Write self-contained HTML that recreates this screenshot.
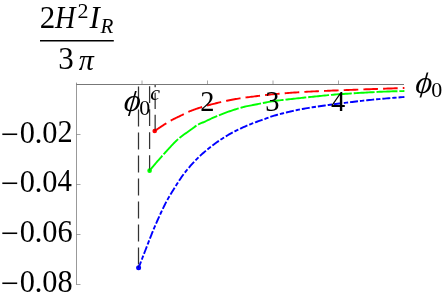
<!DOCTYPE html>
<html><head><meta charset="utf-8"><title>plot</title>
<style>html,body{margin:0;padding:0;background:#fff;width:443px;height:299px;overflow:hidden;font-family:"Liberation Serif",serif}</style>
</head><body>
<svg width="443" height="299" viewBox="0 0 443 299" style="position:absolute;left:0;top:0;transform:translateZ(0)">
<g fill="none" stroke-width="1.9" transform="translate(0 0.45)">
<path d="M154.70 130.60 L154.79 130.54 L154.95 130.42 L155.16 130.27 L155.41 130.09 L155.69 129.89 L156.01 129.67 L156.35 129.43 L156.71 129.17 L157.10 128.90 L157.51 128.61 L157.95 128.32 L158.40 128.01 L158.87 127.68 L159.36 127.35 L159.87 127.01 L160.39 126.66 L160.93 126.30 L161.49 125.93 L162.07 125.55 L162.66 125.16 L163.26 124.77 L163.88 124.37 L164.51 123.97 L165.16 123.56 L165.82 123.14 L166.49 122.72 L167.18 122.29 L167.88 121.86 L168.59 121.42 L169.32 120.99 L170.05 120.56 L170.80 120.14 L171.56 119.73 L172.33 119.32 L173.12 118.91 L173.91 118.51 L174.72 118.10 L175.54 117.70 L176.36 117.29 L177.20 116.89 L178.05 116.48 L178.91 116.07 L179.78 115.65 L180.66 115.23 L181.55 114.80 L182.45 114.37 L183.36 113.92 L184.28 113.45 L185.21 112.97 L186.15 112.47 L187.10 112.00 L188.05 111.55 L189.02 111.14 L190.00 110.75 L190.98 110.36 L191.98 109.97 L192.98 109.59 L193.99 109.22 L195.01 108.85 L196.04 108.49 L197.08 108.14 L198.12 107.79 L199.18 107.45 L200.24 107.11 L201.31 106.78 L202.39 106.45 L203.48 106.13 L204.58 105.81 L205.68 105.50 L206.79 105.19 L207.91 104.89 L209.04 104.59 L210.18 104.29 L211.32 103.99 L212.47 103.69 L213.63 103.40 L214.80 103.11 L215.97 102.82 L217.16 102.53 L218.35 102.24 L219.54 101.96 L220.75 101.68 L221.96 101.40 L223.18 101.13 L224.41 100.85 L225.64 100.59 L226.88 100.32 L228.13 100.06 L229.38 99.81 L230.65 99.56 L231.91 99.31 L233.19 99.07 L234.47 98.83 L235.76 98.60 L237.06 98.37 L238.37 98.15 L239.68 97.93 L240.99 97.72 L242.32 97.52 L243.65 97.33 L244.99 97.15 L246.33 96.97 L247.68 96.80 L249.04 96.63 L250.40 96.46 L251.77 96.29 L253.15 96.13 L254.53 95.96 L255.92 95.79 L257.32 95.61 L258.72 95.44 L260.13 95.26 L261.55 95.09 L262.97 94.91 L264.39 94.74 L265.83 94.57 L267.27 94.40 L268.71 94.24 L270.17 94.08 L271.63 93.93 L273.09 93.79 L274.56 93.65 L276.04 93.52 L277.52 93.39 L279.01 93.26 L280.50 93.13 L282.00 93.00 L283.51 92.88 L285.02 92.76 L286.54 92.65 L288.07 92.53 L289.60 92.42 L291.13 92.31 L292.67 92.20 L294.22 92.09 L295.77 91.99 L297.33 91.89 L298.90 91.78 L300.47 91.69 L302.04 91.59 L303.62 91.49 L305.21 91.40 L306.80 91.31 L308.40 91.22 L310.01 91.13 L311.62 91.05 L313.23 90.97 L314.85 90.89 L316.48 90.81 L318.11 90.73 L319.75 90.66 L321.39 90.59 L323.04 90.52 L324.69 90.45 L326.35 90.38 L328.01 90.31 L329.68 90.24 L331.35 90.18 L333.03 90.11 L334.72 90.05 L336.41 89.98 L338.11 89.92 L339.81 89.85 L341.51 89.78 L343.22 89.72 L344.94 89.65 L346.66 89.58 L348.39 89.52 L350.12 89.45 L351.86 89.39 L353.60 89.32 L355.35 89.26 L357.10 89.19 L358.86 89.12 L360.62 89.06 L362.39 88.99 L364.16 88.93 L365.94 88.86 L367.72 88.80 L369.51 88.73 L371.30 88.67 L373.10 88.61 L374.90 88.54 L376.71 88.48 L378.52 88.41 L380.34 88.35 L382.16 88.29 L383.99 88.23 L385.82 88.16 L387.65 88.10 L389.50 88.04 L391.34 87.98 L393.19 87.92 L395.05 87.86 L396.91 87.80 L398.77 87.74 L400.65 87.68 L402.52 87.62 L404.40 87.56" stroke="#ff0000" stroke-dasharray="14.6 5.1" stroke-dashoffset="0.6"/>
<path d="M149.60 170.20 L149.69 170.09 L149.86 169.89 L150.07 169.62 L150.33 169.31 L150.61 168.96 L150.93 168.57 L151.28 168.15 L151.65 167.70 L152.05 167.22 L152.47 166.71 L152.91 166.18 L153.37 165.63 L153.85 165.05 L154.35 164.46 L154.87 163.84 L155.41 163.21 L155.96 162.56 L156.53 161.90 L157.12 161.21 L157.72 160.52 L158.33 159.81 L158.97 159.08 L159.61 158.35 L160.27 157.60 L160.95 156.84 L161.63 156.07 L162.33 155.29 L163.05 154.50 L163.77 153.70 L164.51 152.89 L165.27 152.06 L166.03 151.22 L166.81 150.36 L167.59 149.49 L168.39 148.61 L169.21 147.72 L170.03 146.82 L170.86 145.92 L171.71 145.02 L172.56 144.11 L173.43 143.21 L174.31 142.31 L175.19 141.42 L176.09 140.55 L177.00 139.68 L177.92 138.84 L178.85 138.01 L179.78 137.21 L180.73 136.44 L181.69 135.70 L182.66 134.98 L183.63 134.28 L184.62 133.59 L185.62 132.91 L186.62 132.23 L187.64 131.54 L188.66 130.85 L189.69 130.14 L190.73 129.40 L191.78 128.63 L192.84 127.81 L193.91 126.99 L194.99 126.18 L196.07 125.40 L197.17 124.69 L198.27 124.06 L199.38 123.50 L200.50 122.99 L201.62 122.51 L202.76 122.05 L203.90 121.58 L205.05 121.08 L206.21 120.55 L207.38 120.00 L208.55 119.44 L209.74 118.87 L210.93 118.30 L212.13 117.74 L213.33 117.18 L214.55 116.63 L215.77 116.10 L217.00 115.60 L218.23 115.11 L219.48 114.62 L220.73 114.14 L221.99 113.65 L223.25 113.17 L224.53 112.69 L225.81 112.21 L227.10 111.74 L228.39 111.27 L229.69 110.81 L231.00 110.35 L232.32 109.90 L233.64 109.46 L234.97 109.03 L236.31 108.61 L237.66 108.20 L239.01 107.80 L240.37 107.41 L241.73 107.04 L243.10 106.67 L244.48 106.33 L245.87 106.00 L247.26 105.70 L248.66 105.41 L250.06 105.14 L251.47 104.87 L252.89 104.60 L254.31 104.33 L255.75 104.05 L257.18 103.77 L258.63 103.47 L260.08 103.18 L261.54 102.88 L263.00 102.59 L264.47 102.30 L265.94 102.01 L267.43 101.74 L268.91 101.47 L270.41 101.21 L271.91 100.97 L273.42 100.74 L274.93 100.52 L276.45 100.31 L277.97 100.11 L279.50 99.92 L281.04 99.73 L282.59 99.55 L284.13 99.37 L285.69 99.19 L287.25 99.02 L288.82 98.84 L290.39 98.67 L291.97 98.50 L293.56 98.33 L295.15 98.15 L296.74 97.97 L298.34 97.80 L299.95 97.62 L301.57 97.45 L303.19 97.27 L304.81 97.10 L306.44 96.93 L308.08 96.76 L309.72 96.59 L311.37 96.42 L313.02 96.26 L314.68 96.09 L316.35 95.92 L318.02 95.75 L319.69 95.58 L321.37 95.41 L323.06 95.23 L324.75 95.06 L326.45 94.89 L328.15 94.72 L329.86 94.56 L331.58 94.40 L333.30 94.24 L335.02 94.10 L336.75 93.96 L338.49 93.84 L340.23 93.72 L341.97 93.60 L343.73 93.48 L345.48 93.36 L347.24 93.25 L349.01 93.13 L350.78 93.02 L352.56 92.90 L354.34 92.79 L356.13 92.67 L357.93 92.56 L359.72 92.45 L361.53 92.34 L363.34 92.24 L365.15 92.13 L366.97 92.03 L368.79 91.93 L370.62 91.83 L372.46 91.73 L374.30 91.64 L376.14 91.55 L377.99 91.46 L379.84 91.37 L381.70 91.29 L383.57 91.21 L385.44 91.13 L387.31 91.06 L389.19 90.99 L391.07 90.93 L392.96 90.87 L394.86 90.81 L396.76 90.76 L398.66 90.71 L400.57 90.66 L402.48 90.63 L404.40 90.59" stroke="#00ff00" stroke-dasharray="20.95 1.9" stroke-dashoffset="1.29"/>
<path d="M138.66 267.25 L138.75 267.00 L138.93 266.55 L139.15 265.97 L139.42 265.28 L139.72 264.49 L140.05 263.62 L140.41 262.68 L140.80 261.67 L141.22 260.60 L141.65 259.46 L142.11 258.27 L142.60 257.02 L143.10 255.72 L143.62 254.38 L144.16 252.98 L144.72 251.54 L145.30 250.06 L145.89 248.52 L146.50 246.94 L147.13 245.32 L147.77 243.65 L148.43 241.95 L149.10 240.21 L149.79 238.44 L150.49 236.65 L151.21 234.84 L151.94 233.02 L152.69 231.19 L153.44 229.35 L154.21 227.49 L155.00 225.63 L155.80 223.76 L156.61 221.90 L157.43 220.05 L158.26 218.20 L159.11 216.33 L159.96 214.45 L160.83 212.57 L161.72 210.68 L162.61 208.80 L163.51 206.93 L164.43 205.07 L165.35 203.24 L166.29 201.44 L167.24 199.68 L168.19 197.96 L169.16 196.26 L170.14 194.59 L171.13 192.94 L172.13 191.31 L173.14 189.69 L174.16 188.07 L175.19 186.44 L176.22 184.81 L177.27 183.15 L178.33 181.50 L179.40 179.85 L180.47 178.21 L181.56 176.61 L182.66 175.05 L183.76 173.55 L184.87 172.10 L186.00 170.68 L187.13 169.28 L188.27 167.92 L189.42 166.58 L190.57 165.26 L191.74 163.96 L192.92 162.69 L194.10 161.42 L195.29 160.17 L196.49 158.94 L197.70 157.72 L198.92 156.53 L200.15 155.35 L201.38 154.20 L202.62 153.08 L203.87 151.98 L205.13 150.90 L206.39 149.84 L207.67 148.79 L208.95 147.76 L210.24 146.74 L211.54 145.74 L212.84 144.75 L214.16 143.78 L215.48 142.82 L216.81 141.88 L218.14 140.95 L219.48 140.03 L220.83 139.12 L222.19 138.23 L223.56 137.35 L224.93 136.48 L226.31 135.63 L227.70 134.80 L229.09 133.98 L230.50 133.18 L231.91 132.41 L233.32 131.65 L234.75 130.91 L236.18 130.18 L237.61 129.47 L239.06 128.78 L240.51 128.09 L241.97 127.42 L243.43 126.76 L244.91 126.10 L246.39 125.46 L247.87 124.83 L249.36 124.21 L250.86 123.60 L252.37 123.01 L253.88 122.43 L255.40 121.85 L256.93 121.29 L258.46 120.74 L260.00 120.20 L261.54 119.67 L263.10 119.13 L264.66 118.58 L266.22 118.01 L267.79 117.43 L269.37 116.84 L270.95 116.27 L272.55 115.74 L274.14 115.25 L275.75 114.78 L277.36 114.32 L278.97 113.88 L280.59 113.45 L282.22 113.03 L283.86 112.62 L285.50 112.22 L287.14 111.82 L288.80 111.42 L290.46 111.04 L292.12 110.66 L293.79 110.28 L295.47 109.92 L297.15 109.57 L298.84 109.23 L300.54 108.90 L302.24 108.58 L303.94 108.27 L305.66 107.96 L307.37 107.67 L309.10 107.38 L310.83 107.10 L312.57 106.82 L314.31 106.55 L316.06 106.28 L317.81 106.01 L319.57 105.75 L321.33 105.50 L323.10 105.25 L324.88 105.00 L326.66 104.75 L328.45 104.51 L330.24 104.27 L332.04 104.03 L333.85 103.80 L335.66 103.56 L337.47 103.33 L339.29 103.10 L341.12 102.87 L342.95 102.63 L344.79 102.40 L346.63 102.17 L348.48 101.94 L350.34 101.71 L352.20 101.49 L354.06 101.26 L355.93 101.04 L357.81 100.82 L359.69 100.60 L361.57 100.39 L363.47 100.18 L365.36 99.98 L367.27 99.78 L369.17 99.58 L371.09 99.39 L373.00 99.21 L374.93 99.02 L376.86 98.84 L378.79 98.66 L380.73 98.48 L382.67 98.30 L384.62 98.13 L386.58 97.96 L388.54 97.79 L390.50 97.62 L392.47 97.46 L394.45 97.31 L396.43 97.15 L398.41 97.00 L400.40 96.85 L402.40 96.71 L404.40 96.57" stroke="#0000ff" stroke-dasharray="8.0 1.95 4.34 1.95" stroke-dashoffset="1.34"/>
</g>
<g fill="none" stroke="#333" stroke-width="1.25">
<path d="M138.5 86.5 V267.7" stroke-dasharray="17 6"/>
<path d="M149.6 86.3 V170.6" stroke-dasharray="16.75 6.2"/>
<path d="M155.15 131.05 V84.5" stroke-dasharray="16.35 5.6"/>
</g>
<circle cx="154.7" cy="131.05" r="2.3" fill="#ff0000"/>
<circle cx="149.6" cy="170.65" r="2.3" fill="#00ff00"/>
<circle cx="138.6" cy="267.7" r="2.5" fill="#0000ff"/>
<g fill="none" stroke="#000" stroke-width="1.25" stroke-opacity="0.3"><path d="M138.5 265.2 V267.7"/><path d="M149.6 168.3 V170.6"/><path d="M155.15 128.7 V131.05"/></g>
<g fill="none" stroke="#777" stroke-width="1">
<path d="M76.2 84.5 H404"/>
<path d="M76.5 82.6 V284.8" stroke-width="0.75"/>
<path d="M142.0 84.5 V80.5" stroke-width="0.65"/>
<path d="M207.5 84.5 V80.5" stroke-width="0.65"/>
<path d="M273.0 84.5 V80.5" stroke-width="0.65"/>
<path d="M338.5 84.5 V80.5" stroke-width="0.65"/>
<path d="M76.5 134.5 H80.5" stroke-width="0.65"/>
<path d="M76.5 184.5 H80.5" stroke-width="0.65"/>
<path d="M76.5 234.5 H80.5" stroke-width="0.65"/>
<path d="M76.5 284.5 H80.5" stroke-width="0.65"/>
</g>
<path d="M40 40.75 H113.8" stroke="#000" stroke-width="1.5" fill="none"/>
<g font-family="Liberation Serif, serif" font-size="32" fill="#000">
<text x="0.41" y="145.05">−</text>
<text transform="translate(21.00 142.75) scale(0.95 1)" x="-1.22" y="0">0</text>
<text x="34.59" y="142.75">.</text>
<text transform="translate(43.30 142.75) scale(0.95 1)" x="-1.22" y="0">0</text>
<text transform="translate(58.90 142.15) scale(0.95 1)" x="-1.41" y="0">2</text>
<text x="0.41" y="194.30">−</text>
<text transform="translate(21.00 192.00) scale(0.95 1)" x="-1.22" y="0">0</text>
<text x="34.59" y="192.00">.</text>
<text transform="translate(43.30 192.00) scale(0.95 1)" x="-1.22" y="0">0</text>
<text transform="translate(58.00 191.40) scale(0.9 1)" x="-0.62" y="0">4</text>
<text x="0.41" y="244.30">−</text>
<text transform="translate(21.00 242.00) scale(0.95 1)" x="-1.22" y="0">0</text>
<text x="34.59" y="242.00">.</text>
<text transform="translate(43.30 242.00) scale(0.95 1)" x="-1.22" y="0">0</text>
<text transform="translate(58.70 242.00) scale(0.95 1)" x="-1.38" y="0">6</text>
<text x="0.41" y="294.30">−</text>
<text transform="translate(21.00 292.00) scale(0.95 1)" x="-1.22" y="0">0</text>
<text x="34.59" y="292.00">.</text>
<text transform="translate(43.30 292.00) scale(0.95 1)" x="-1.22" y="0">0</text>
<text transform="translate(58.70 292.00) scale(0.95 1)" x="-1.22" y="0">8</text>
<text transform="translate(201.39 110.90) scale(0.95 1)" x="-1.32" y="0" font-size="30">2</text>
<text transform="translate(266.71 110.90) scale(0.95 1)" x="-1.44" y="0" font-size="30">3</text>
<text transform="translate(331.48 110.90) scale(0.95 1)" x="-0.59" y="0" font-size="30">4</text>
<text x="39.74" y="28.40" font-size="31">2</text>
<text transform="translate(54.70 28.40) scale(0.91 1)" x="0.33" y="0" font-size="31" font-style="italic">H</text>
<text x="77.53" y="18.00" font-size="22">2</text>
<text x="89.42" y="28.40" font-size="31" font-style="italic">I</text>
<text x="100.61" y="32.90" font-size="21" font-style="italic">R</text>
<text x="58.22" y="69.40" font-size="31">3</text>
<text x="78.64" y="69.60" font-size="30" font-style="italic">π</text>
<clipPath id="c1"><rect x="395.40" y="72.60" width="60" height="25.00"/></clipPath>
<g clip-path="url(#c1)"><text transform="translate(415.40 92.50) skewX(-6)" x="-0.73" y="0" font-style="italic">ϕ</text></g>
<text x="431.26" y="97.00" font-size="22">0</text>
<clipPath id="c2"><rect x="104.00" y="90.90" width="60" height="25.00"/></clipPath>
<g clip-path="url(#c2)"><text transform="translate(124.00 110.80) skewX(-6)" x="-0.73" y="0" font-style="italic">ϕ</text></g>
<text x="139.16" y="115.30" font-size="22">0</text>
<text x="150.22" y="99.90" font-size="22" font-style="italic">c</text>
</g>
</svg>
</body></html>
